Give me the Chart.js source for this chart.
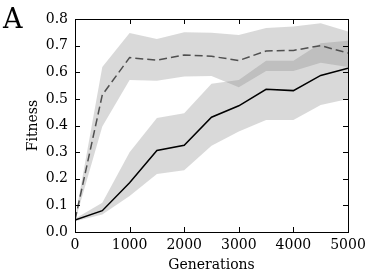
<!DOCTYPE html>
<html>
<head>
<meta charset="utf-8">
<script src="https://cdn.jsdelivr.net/npm/chart.js@4"></script>
<style>
html,body{margin:0;padding:0;background:#fff;}
#wrap{position:relative;width:374px;height:277px;}
</style>
</head>
<body>
<div id="wrap"><canvas id="c" width="374" height="277"></canvas></div>
<script>
const generations = [0, 500, 1000, 1500, 2000, 2500, 3000, 3500, 4000, 4500, 5000];
const dashedMean  = [0.045, 0.515, 0.655, 0.645, 0.665, 0.660, 0.644, 0.680, 0.682, 0.700, 0.672];
const dashedUpper = [0.050, 0.620, 0.747, 0.725, 0.750, 0.748, 0.740, 0.766, 0.772, 0.784, 0.753];
const dashedLower = [0.040, 0.396, 0.571, 0.568, 0.584, 0.586, 0.544, 0.605, 0.605, 0.636, 0.620];
const solidMean   = [0.045, 0.080, 0.185, 0.306, 0.326, 0.431, 0.474, 0.536, 0.531, 0.588, 0.615];
const solidUpper  = [0.050, 0.110, 0.300, 0.428, 0.446, 0.557, 0.571, 0.643, 0.643, 0.709, 0.718];
const solidLower  = [0.040, 0.066, 0.135, 0.218, 0.232, 0.324, 0.377, 0.421, 0.421, 0.477, 0.500];
const yTicks = [0.0, 0.1, 0.2, 0.3, 0.4, 0.5, 0.6, 0.7, 0.8];
const xTicks = [0, 1000, 2000, 3000, 4000, 5000];
const panelLabel = 'A';
const xTitle = 'Generations';
const yTitle = 'Fitness';

const pts = arr => arr.map((v, i) => ({x: generations[i], y: v}));
const band = 'rgba(128,128,128,0.3)';
const serif = "'DejaVu Serif', serif";

const frameTicks = {
  id: 'frameTicks',
  afterDatasetsDraw(chart) {
    const ctx = chart.ctx, a = chart.chartArea;
    const xs = chart.scales.x, ys = chart.scales.y;
    const L = 5;
    ctx.save();
    ctx.strokeStyle = '#000';
    ctx.lineWidth = 1;
    ctx.beginPath();
    xs.ticks.forEach(t => {
      const px = Math.round(xs.getPixelForValue(t.value)) + 0.5;
      ctx.moveTo(px, a.bottom); ctx.lineTo(px, a.bottom - L);
      ctx.moveTo(px, a.top); ctx.lineTo(px, a.top + L);
    });
    ys.ticks.forEach(t => {
      const py = Math.round(ys.getPixelForValue(t.value)) + 0.5;
      ctx.moveTo(a.left, py); ctx.lineTo(a.left + L, py);
      ctx.moveTo(a.right, py); ctx.lineTo(a.right - L, py);
    });
    ctx.stroke();
    ctx.strokeRect(Math.round(a.left) + 0.5, Math.round(a.top) + 0.5,
                   Math.round(a.right - a.left), Math.round(a.bottom - a.top));
    ctx.fillStyle = '#000';
    ctx.font = '27px ' + serif;
    ctx.textBaseline = 'alphabetic';
    ctx.textAlign = 'left';
    ctx.fillText(panelLabel, 3, 28);
    ctx.restore();
  }
};

new Chart(document.getElementById('c'), {
  type: 'line',
  data: {
    datasets: [
      {data: pts(solidMean), borderColor: '#000', borderWidth: 1.5, pointRadius: 0, fill: false, tension: 0},
      {data: pts(dashedMean), borderColor: '#505050', borderWidth: 1.5, borderDash: [8, 4], pointRadius: 0, fill: false, tension: 0},
      {data: pts(dashedUpper), borderWidth: 0, borderColor: 'rgba(0,0,0,0)', pointRadius: 0, backgroundColor: band, fill: '+1', tension: 0},
      {data: pts(dashedLower), borderWidth: 0, borderColor: 'rgba(0,0,0,0)', pointRadius: 0, fill: false, tension: 0},
      {data: pts(solidUpper), borderWidth: 0, borderColor: 'rgba(0,0,0,0)', pointRadius: 0, backgroundColor: band, fill: '+1', tension: 0},
      {data: pts(solidLower), borderWidth: 0, borderColor: 'rgba(0,0,0,0)', pointRadius: 0, fill: false, tension: 0}
    ]
  },
  options: {
    responsive: false,
    animation: false,
    events: [],
    layout: {padding: {top: 19, right: 26, left: 0, bottom: 0}},
    plugins: {legend: {display: false}, tooltip: {enabled: false}},
    scales: {
      x: {
        type: 'linear', min: 0, max: 5000,
        afterBuildTicks: s => { s.ticks = xTicks.map(v => ({value: v})); },
        afterFit: s => { s.height = 45; },
        grid: {display: false, drawTicks: false},
        border: {display: false},
        ticks: {color: '#000', padding: 5, maxRotation: 0, callback: v => String(v), font: {family: serif, size: 14}},
        title: {display: true, text: xTitle, color: '#000', padding: {top: 0, bottom: 3}, font: {family: serif, size: 14}}
      },
      y: {
        type: 'linear', min: 0, max: 0.8,
        afterBuildTicks: s => { s.ticks = yTicks.map(v => ({value: v})); },
        afterFit: s => { s.width = 75; },
        grid: {display: false, drawTicks: false},
        border: {display: false},
        ticks: {color: '#000', padding: 7, callback: v => Number(v).toFixed(1), font: {family: serif, size: 14}},
        title: {display: true, text: yTitle, color: '#000', padding: {top: 25, bottom: 0}, font: {family: serif, size: 14}}
      }
    }
  },
  plugins: [frameTicks]
});
</script>
</body>
</html>
